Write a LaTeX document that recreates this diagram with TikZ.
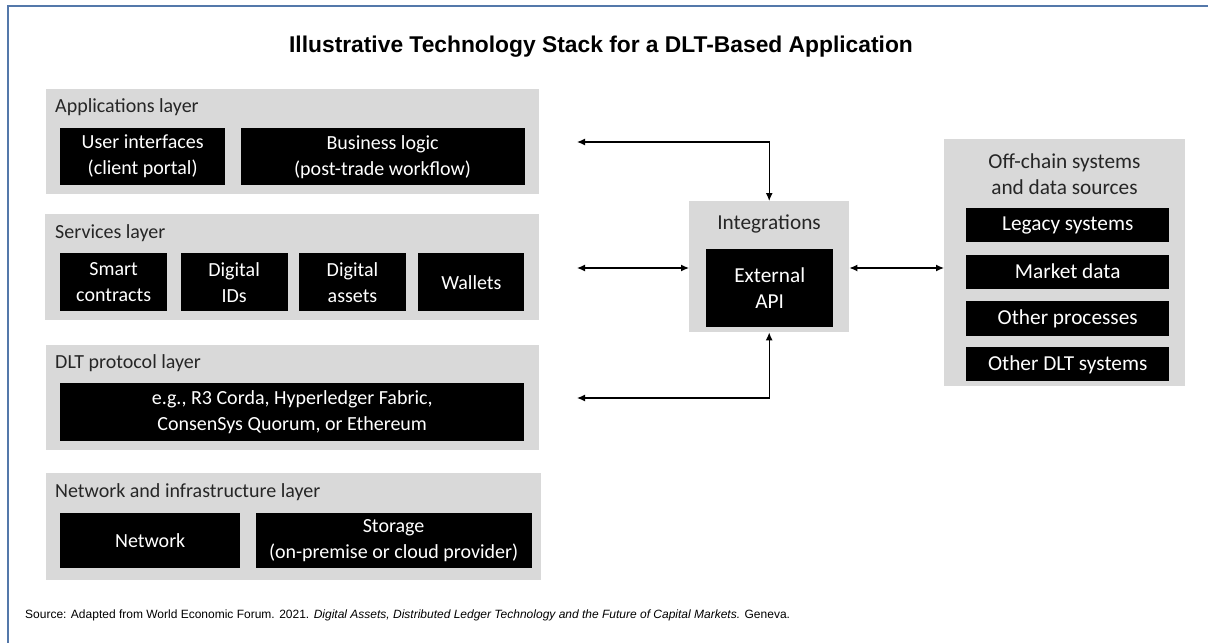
\documentclass[tikz,border=0pt]{standalone}
\usepackage{fontspec}
\setmainfont{Carlito}
\newfontfamily\arialfont{Liberation Sans}
\usetikzlibrary{arrows.meta,positioning}
\definecolor{panelgray}{RGB}{217,217,217}
\definecolor{frameblue}{RGB}{84,120,170}

\begin{document}
\begin{tikzpicture}[
                  x=1pt, y=-1pt, node distance=12pt,
                  panel/.style={rectangle, fill=panelgray, anchor=north west, inner sep=0pt},
                  block/.style={rectangle, fill=black, text=white, align=center, inner sep=0pt, font=\fontsize{20}{26}\selectfont},
                  bigtext/.style={font=\fontsize{21.3}{26.5}\selectfont},
                  layer/.style={anchor=base west, inner sep=0pt, text=black!85, font=\fontsize{20}{26}\selectfont},
                  line/.style={draw, {Latex[length=8pt,width=7pt]}-{Latex[length=8pt,width=7pt]}, line width=1.3pt}
            ]
            \useasboundingbox (0,0) rectangle (1208,643);
            \draw [frameblue, line width=2pt] (1208,6) -- (8,6) -- (8,643);

            % Title
            \node [font=\arialfont\bfseries\fontsize{22.8}{26}\selectfont] (title) at (601,47) {Illustrative Technology Stack for a DLT-Based Application};

            % Panels
            \node [panel, minimum width=493pt, minimum height=105pt] (apps) at (46,89) {};
            \node [panel, minimum width=494pt, minimum height=106pt] (svc) at (45,214) {};
            \node [panel, minimum width=493pt, minimum height=105pt] (dlt) at (46,345) {};
            \node [panel, minimum width=495pt, minimum height=107pt] (net) at (46,473) {};
            \node [panel, minimum width=160pt, minimum height=131pt] (integ) at (689,201) {};
            \node [panel, minimum width=241pt, minimum height=247pt] (offchain) at (944,139) {};

            % Layer names
            \node [layer] (appslbl) at (55,112) {Applications layer};
            \node [layer] (svclbl) at (55,238) {Services layer};
            \node [layer] (dltlbl) at (55,368) {DLT protocol layer};
            \node [layer] (netlbl) at (55,497) {Network and infrastructure layer};
            \node [bigtext, text=black!85] (integlbl) at (769,224) {Integrations};
            \node [bigtext, text=black!85, align=center] (offlbl) at (1064.5,174) {Off-chain systems\\and data sources};

            % Nodes
            \node [block, anchor=north west, minimum width=165pt, minimum height=57pt] (ui) at (60,128) {User interfaces\\(client portal)};
            \node [block, right=15pt of ui, minimum width=284pt, minimum height=57pt] (logic) {Business logic\\(post-trade workflow)};
            \node [block, anchor=north west, minimum width=107pt, minimum height=58pt] (smart) at (60,253) {Smart\\contracts};
            \node [block, right=13pt of smart, minimum width=107pt, minimum height=58pt] (ids) {Digital\\IDs};
            \node [block, right=11pt of ids, minimum width=107pt, minimum height=58pt] (assets) {Digital\\assets};
            \node [block, right=12pt of assets, minimum width=106pt, minimum height=58pt] (wallets) {Wallets};
            \node [block, anchor=north west, minimum width=464pt, minimum height=58pt] (protocol) at (60,383) {e.g., R3 Corda, Hyperledger Fabric,\\ConsenSys Quorum, or Ethereum};
            \node [block, anchor=north west, minimum width=180pt, minimum height=55pt] (network) at (60,513) {Network};
            \node [block, right=15pt of network, minimum width=276pt, minimum height=55pt] (storage) {Storage\\(on-premise or cloud provider)};
            \node [block, bigtext, anchor=north west, minimum width=127pt, minimum height=78pt] (api) at (706,249) {External\\API};
            \node [block, bigtext, anchor=north west, minimum width=203pt, minimum height=34pt] (legacy) at (966,208) {Legacy systems};
            \node [block, bigtext, below=12pt of legacy, minimum width=203pt, minimum height=34pt] (market) {Market data};
            \node [block, bigtext, below=12pt of market, minimum width=203pt, minimum height=35pt] (procs) {Other processes};
            \node [block, bigtext, below=11pt of procs, minimum width=203pt, minimum height=34pt] (otherdlt) {Other DLT systems};

            % Edges
            \coordinate (appsin) at (577,142);
            \coordinate (svcin) at (577,268);
            \coordinate (dltin) at (577,398);
            \path [line] (appsin) -| (integ.north);
            \path [line] (svcin) -- (svcin -| integ.west);
            \path [line] (svcin -| integ.east) -- (svcin -| offchain.west);
            \path [line] (dltin) -| (integ.south);

            % Source
            \node [anchor=base west, inner sep=0pt, font=\arialfont\fontsize{12}{14}\selectfont] (source) at (25,618) {Source: Adapted from World Economic Forum. 2021. \textit{Digital Assets, Distributed Ledger Technology and the Future of Capital Markets.} Geneva.};
      \end{tikzpicture}
\end{document}
